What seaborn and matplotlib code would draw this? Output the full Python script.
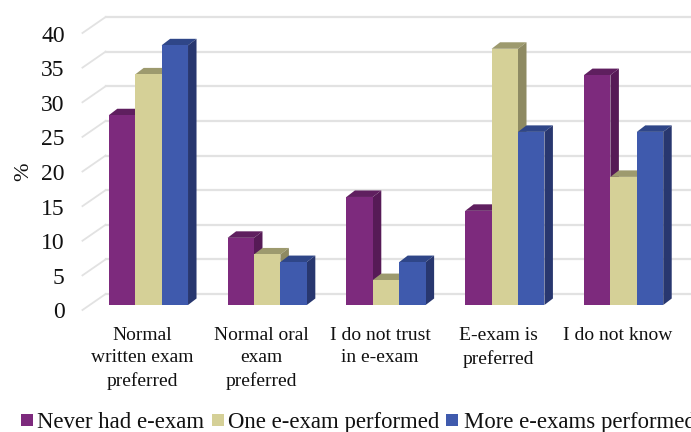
import numpy as np
import pandas as pd
import matplotlib.pyplot as plt
import matplotlib.transforms as mtrans
from matplotlib.patches import Polygon, Rectangle
import seaborn as sns

categories = ["Normal\nwritten exam\npreferred", "Normal oral\nexam\npreferred",
              "I do not trust\nin e-exam", "E-exam is\npreferred", "I do not know"]
series_names = ["Never had e-exam", "One e-exam performed", "More e-exams performed"]
never_had = [27.4, 9.7, 15.6, 13.6, 33.2]
one_exam = [33.3, 7.3, 3.6, 37.0, 18.5]
more_exams = [37.5, 6.2, 6.2, 25.0, 25.0]
yticks = [0, 5, 10, 15, 20, 25, 30, 35, 40]

colors = ["#7d2a7d", "#d5d097", "#3f5aad"]
top_colors = ["#5f1f5f", "#9d9a6e", "#2f4688"]
side_colors = ["#561a56", "#8e8a62", "#28376f"]
grid_color = "#e2e2e2"

W, H = 691, 432

df = pd.DataFrame({
    "category": categories * 3,
    "series": np.repeat(series_names, 5),
    "value": never_had + one_exam + more_exams,
})

plt.rcParams["font.family"] = ["Liberation Serif", "DejaVu Serif"]
fig = plt.figure(figsize=(W / 100, H / 100), dpi=100)
# axes box is the plane of the bar fronts
ax = fig.add_axes([89 / W, 1 - 305 / H, 594 / W, 277 / H])

sns.barplot(data=df, x="category", y="value", hue="series", hue_order=series_names,
            palette=colors, width=0.667, gap=0, saturation=1, legend=False, ax=ax, zorder=3)
ax.set_xlim(-0.5, 4.5)
ax.set_ylim(0, 40)
for s in ax.spines.values():
    s.set_visible(False)
ax.tick_params(length=0)
ax.set_xlabel("")
ax.set_ylabel("")
ax.set_xticks([])
ax.set_yticks([])
ax.patch.set_visible(False)


def shift(dx, dy):
    # pixel offset from the data position, y up
    return ax.transData + mtrans.ScaledTranslation(dx / 100, dy / 100, fig.dpi_scale_trans)


# back wall gridlines and the slanted lines on the left wall
back, front = shift(0, 11), shift(0, -5)
label_pos = shift(0, -8)
for v in yticks:
    ax.plot([-0.36, 4.6], [v, v], color=grid_color, lw=1.6, transform=back, zorder=1, clip_on=False)
    p0 = back.transform((-0.36, v))
    p1 = front.transform((-0.555, v))
    ax.plot([p0[0], p1[0]], [p0[1], p1[1]], color=grid_color, lw=1.3,
            transform=None, zorder=1, clip_on=False)
    ax.text(-0.705, v, str(v), transform=label_pos, ha="right", va="center", fontsize=17,
            color="#111111", clip_on=False)

# top and side faces built from the seaborn bars
depth_x, depth_y = 8.5, 6.5
for c, container in enumerate(ax.containers):
    for i, bar in enumerate(container):
        bar.set_edgecolor("none")
        x0, x1 = bar.get_x(), bar.get_x() + bar.get_width()
        h = bar.get_height()
        a = ax.transData.transform([(x0, h), (x1, h), (x1, 0)])
        d = np.array([depth_x, depth_y])
        top = [a[0], a[1], a[1] + d, a[0] + d]
        side = [a[1], a[1] + d, a[2] + d, a[2]]
        # later series sit in front of the earlier side faces
        z = 2 + c * 0.1
        ax.add_patch(Polygon(top, closed=True, transform=None, fc=top_colors[c], ec="none", zorder=z))
        ax.add_patch(Polygon(side, closed=True, transform=None, fc=side_colors[c], ec="none", zorder=z))
        bar.set_zorder(z + 0.05)

# category labels, centred a little left of the bars like the reference
for i, lab in enumerate(categories):
    ax.text(i, 0, lab, transform=shift(-6, -22.5), ha="center", va="top", fontsize=14,
            linespacing=1.38, color="#111111", clip_on=False)

# y axis title
fig.text(24 / W, 1 - 172 / H, "%", rotation=90, ha="center", va="center", fontsize=16, color="#111111")

# legend row, the last text runs off the right edge like the reference
for name, col, sx, tx in zip(series_names, colors, [21, 212, 446], [37, 228, 464]):
    fig.add_artist(Rectangle((sx / W, 1 - 426 / H), 12 / W, 12 / H, transform=fig.transFigure,
                             fc=col, ec="none"))
    fig.text(tx / W, 1 - 422.5 / H, name, ha="left", va="center", fontsize=16.4, color="#111111")

fig.savefig("out.png", dpi=100)
